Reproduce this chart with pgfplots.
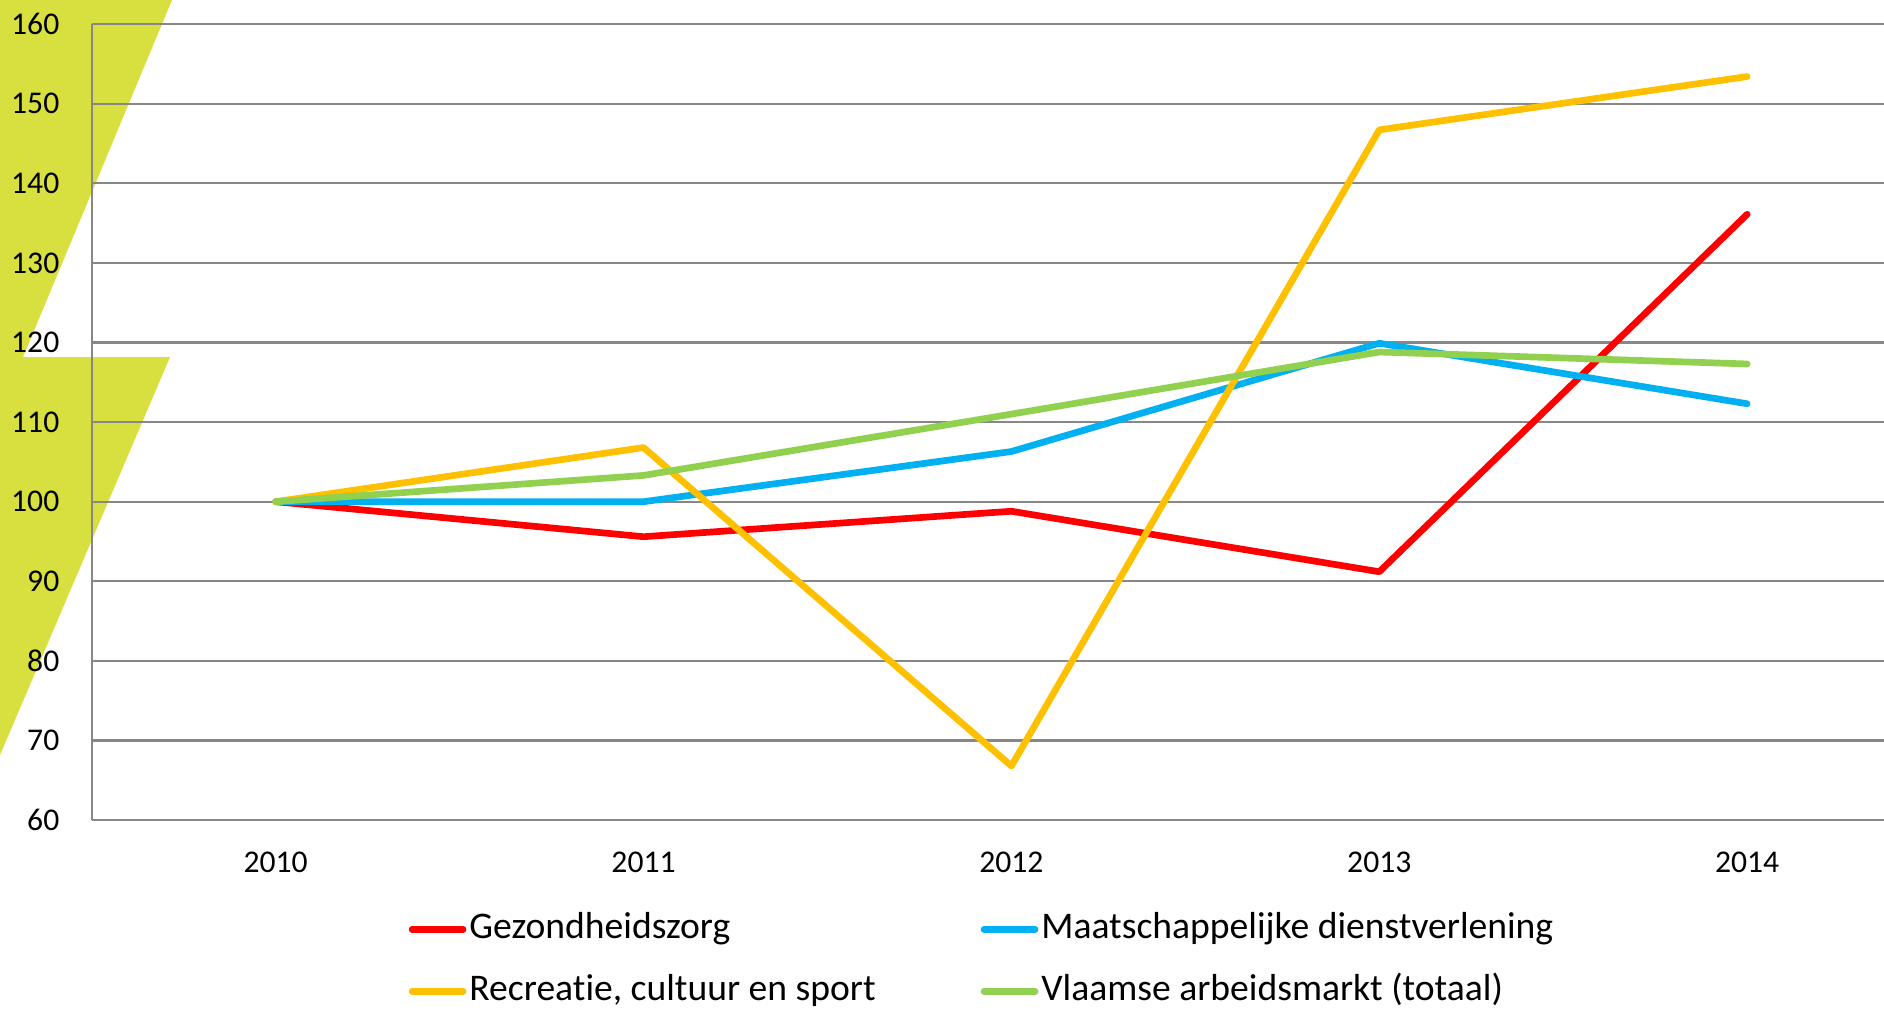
\documentclass[border=0pt]{standalone}
\usepackage{pgfplots}
\pgfplotsset{compat=1.18}
\usepackage{fontspec}
\setmainfont{Carlito}[Ligatures=NoCommon]

\definecolor{cRed}{HTML}{FF0000}
\definecolor{cBlue}{HTML}{00B0F0}
\definecolor{cGold}{HTML}{FFC000}
\definecolor{cGreen}{HTML}{92D050}
\definecolor{cDeco}{HTML}{D8E03F}
\definecolor{cGrid}{HTML}{878787}

\begin{document}
\begin{tikzpicture}
\path[use as bounding box] (-9.17mm,-19mm) rectangle (179.2mm,82mm);
% decorative band behind the axis
\fill[cDeco] (-9.17mm,82mm) -- (8.03mm,82mm) -- (-6.87mm,46.3mm) -- (7.83mm,46.3mm) -- (-9.17mm,6.5mm) -- cycle;
\begin{axis}[
  scale only axis,
  width=179.2mm, height=79.6mm,
  xmin=-0.5, xmax=4.372,
  ymin=60, ymax=160,
  ytick={60,70,...,160},
  xtick=data,
  xticklabels={2010,2011,2012,2013,2014},
  axis x line*=bottom, axis y line*=left,
  axis line style={draw=cGrid, line width=0.6pt, -},
  ymajorgrids,
  major grid style={draw=cGrid, line width=0.6pt},
  major tick length=0pt,
  tick label style={font=\fontsize{9}{10}\selectfont},
  /pgf/number format/assume math mode=true,
  yticklabel style={xshift=-2mm},
  xticklabel style={yshift=-1.9mm},
  legend columns=2,
  legend cell align=left,
  legend style={draw=none, fill=none, inner sep=0pt,
    at={(axis description cs:0.1765,-0.176)}, anchor=west,
    font=\fontsize{10.7}{12}\selectfont,
    nodes={inner sep=0pt, text height=2.6mm, text depth=0.8mm},
    row sep=2.8mm,
    /tikz/every odd column/.append style={column sep=0.3mm},
    /tikz/every even column/.append style={column sep=10.5mm}},
  legend image code/.code={\draw[#1, line width=1.9pt, line cap=round] (0.3mm,0mm) -- (5.4mm,0mm);},
  every axis plot/.append style={line width=1.9pt, line join=round, line cap=round},
]
\addplot[cRed] coordinates {(0,100) (1,95.6) (2,98.8) (3,91.2) (4,136.1)};
\addlegendentry{Gezondheidszorg}
\addplot[cBlue] coordinates {(0,100) (1,100) (2,106.3) (3,119.9) (4,112.3)};
\addlegendentry{Maatschappelijke dienstverlening}
\addplot[cGold] coordinates {(0,100) (1,106.8) (2,66.8) (3,146.7) (4,153.4)};
\addlegendentry{Recreatie, cultuur en sport}
\addplot[cGreen] coordinates {(0,100) (1,103.3) (2,111.0) (3,118.8) (4,117.3)};
\addlegendentry{Vlaamse arbeidsmarkt (totaal)}
\end{axis}
\end{tikzpicture}
\end{document}
